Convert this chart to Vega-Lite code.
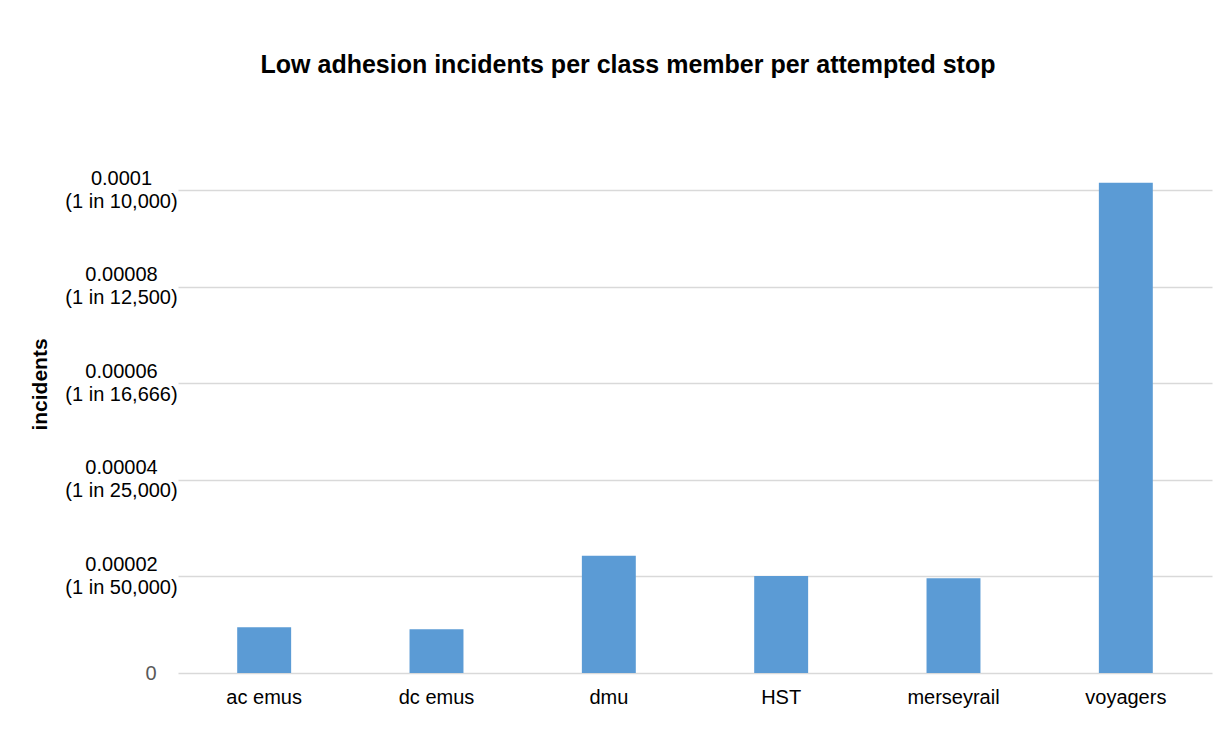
{
  "$schema": "https://vega.github.io/schema/vega-lite/v6.json",
  "autosize": "none",
  "width": 1034,
  "height": 483,
  "padding": {"left": 178, "top": 190, "right": 17, "bottom": 76},
  "background": "white",
  "title": {
    "text": "Low adhesion incidents per class member per attempted stop",
    "font": "Liberation Sans",
    "fontSize": 25,
    "fontWeight": "bold",
    "color": "#000000",
    "anchor": "middle",
    "dx": -67,
    "baseline": "alphabetic",
    "offset": 70
  },
  "data": {
    "values": [
      {"category": "ac emus", "incidents": 0.00000946},
      {"category": "dc emus", "incidents": 0.00000905},
      {"category": "dmu", "incidents": 0.0000243},
      {"category": "HST", "incidents": 0.0000201},
      {"category": "merseyrail", "incidents": 0.0000196},
      {"category": "voyagers", "incidents": 0.0001015}
    ]
  },
  "mark": {"type": "bar", "color": "#5b9bd5", "clip": false},
  "encoding": {
    "x": {
      "field": "category",
      "type": "nominal",
      "sort": null,
      "scale": {"paddingInner": 0.687, "paddingOuter": 0.3435},
      "axis": {
        "title": null,
        "labelAngle": 0,
        "labelFont": "Liberation Sans",
        "labelFontSize": 20,
        "labelColor": "#000000",
        "labelPadding": 14,
        "ticks": false,
        "domain": false,
        "grid": false
      }
    },
    "y": {
      "field": "incidents",
      "type": "quantitative",
      "scale": {"domain": [0, 0.0001], "nice": false},
      "axis": {
        "title": "incidents",
        "titleFont": "Liberation Sans",
        "titleFontSize": 21,
        "titleFontWeight": "bold",
        "titleColor": "#000000",
        "titleX": -138,
        "titleY": 194,
        "titleAngle": -90,
        "titleBaseline": "middle",
        "titleAlign": "center",
        "values": [0, 0.00002, 0.00004, 0.00006, 0.00008, 0.0001],
        "labelExpr": "datum.value == 0 ? '0' : datum.value > 0.00009 ? ['0.0001', '(1 in 10,000)'] : datum.value > 0.00007 ? ['0.00008', '(1 in 12,500)'] : datum.value > 0.00005 ? ['0.00006', '(1 in 16,666)'] : datum.value > 0.00003 ? ['0.00004', '(1 in 25,000)'] : ['0.00002', '(1 in 50,000)']",
        "labelFont": "Liberation Sans",
        "labelFontSize": 20,
        "labelLineHeight": 23,
        "labelAlign": {"condition": {"test": "datum.value == 0", "value": "right"}, "value": "center"},
        "labelBaseline": "middle",
        "labelOffset": {"condition": {"test": "datum.value == 0", "value": 0}, "value": -12},
        "labelPadding": {"condition": {"test": "datum.value == 0", "value": 22}, "value": 57},
        "labelColor": {"condition": {"test": "datum.value == 0", "value": "#595959"}, "value": "#000000"},
        "ticks": false,
        "domain": false,
        "grid": true,
        "gridColor": "#d9d9d9",
        "gridWidth": 1.3
      }
    }
  },
  "config": {"view": {"stroke": null}}
}
